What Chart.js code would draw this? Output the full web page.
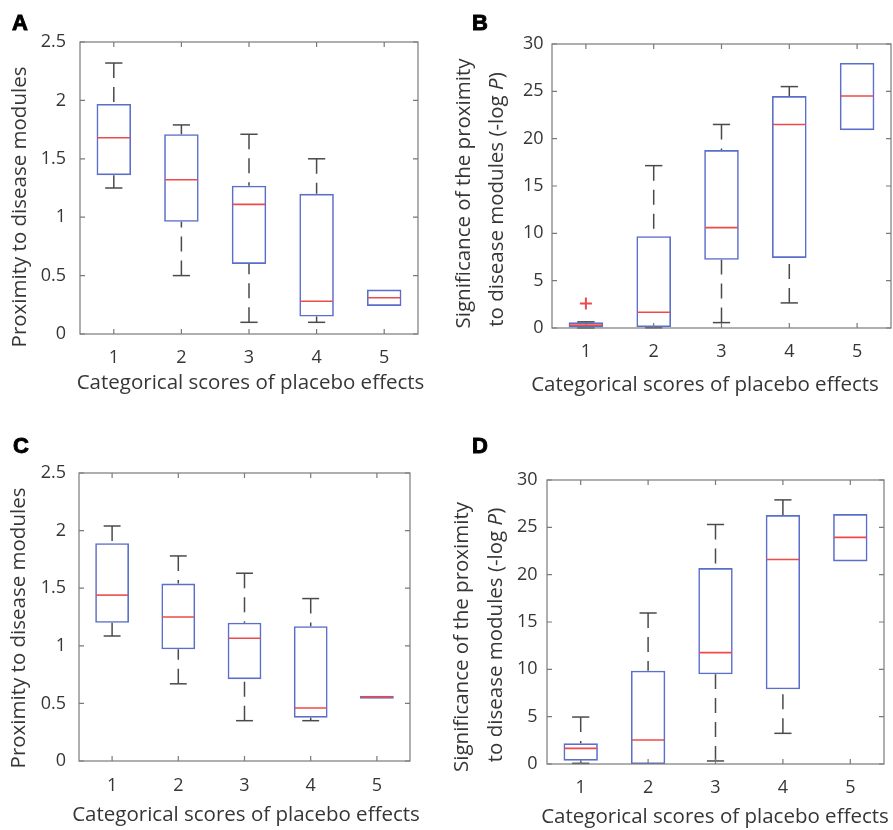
<!DOCTYPE html>
<html>
<head>
<meta charset="utf-8">
<script src="https://cdn.jsdelivr.net/npm/chart.js@4.4.0/dist/chart.umd.min.js"></script>
<style>
  body { margin: 0; background: #fff; }
  #wrap { position: relative; width: 893px; height: 830px; overflow: hidden; }
  .panel { position: absolute; }
  .tag { position: absolute; font: bold 22px "Liberation Sans", Arial, sans-serif; line-height: 1;
         color: #000; -webkit-text-stroke: 0.9px #000; }
</style>
</head>
<body>
<div id="wrap">
  <div class="panel" style="left:0;top:0;width:446px;height:410px"><canvas id="cA"></canvas></div>
  <div class="panel" style="left:446px;top:0;width:447px;height:410px"><canvas id="cB"></canvas></div>
  <div class="panel" style="left:0;top:420px;width:446px;height:410px"><canvas id="cC"></canvas></div>
  <div class="panel" style="left:446px;top:420px;width:447px;height:410px"><canvas id="cD"></canvas></div>
  <div class="tag" style="left:12px;top:12px">A</div>
  <div class="tag" style="left:472px;top:12px">B</div>
  <div class="tag" style="left:13px;top:435px">C</div>
  <div class="tag" style="left:472px;top:435px">D</div>
</div>
<script>
const categories = ['1', '2', '3', '4', '5'];
const proxTicks = [0, 0.5, 1, 1.5, 2, 2.5];
const sigTicks = [0, 5, 10, 15, 20, 25, 30];

// A - proximity
const aLow  = [1.25, 0.50, 0.10, 0.10, 0.24];
const aQ1   = [1.36, 0.96, 0.60, 0.15, 0.24];
const aMed  = [1.68, 1.32, 1.11, 0.28, 0.31];
const aQ3   = [1.97, 1.71, 1.27, 1.20, 0.38];
const aHigh = [2.32, 1.79, 1.71, 1.50, 0.38];
const aOut  = [[], [], [], [], []];

// B - significance
const bLow  = [0, 0.02, 0.57, 2.65, 20.9];
const bQ1   = [0.05, 0.1, 7.2, 7.4, 20.9];
const bMed  = [0.3, 1.67, 10.6, 21.5, 24.5];
const bQ3   = [0.6, 9.7, 18.8, 24.5, 28.0];
const bHigh = [0.65, 17.15, 21.5, 25.5, 28.0];
const bOut  = [[2.6], [], [], [], []];

// C - proximity
const cLow  = [1.085, 0.67, 0.35, 0.35, 0.54];
const cQ1   = [1.20, 0.97, 0.71, 0.376, 0.54];
const cMed  = [1.44, 1.25, 1.065, 0.46, 0.553];
const cQ3   = [1.89, 1.54, 1.20, 1.17, 0.567];
const cHigh = [2.04, 1.78, 1.63, 1.41, 0.567];
const cOut  = [[], [], [], [], []];

// D - significance
const dLow  = [0.07, 0, 0.32, 3.24, 21.4];
const dQ1   = [0.35, 0, 9.47, 7.89, 21.4];
const dMed  = [1.65, 2.54, 11.76, 21.6, 23.94];
const dQ3   = [2.18, 9.86, 20.7, 26.3, 26.4];
const dHigh = [4.96, 15.95, 25.3, 27.9, 26.4];
const dOut  = [[], [], [], [], []];

const xTitle = 'Categorical scores of placebo effects';
const proxTitle = [[['Proximity to disease modules', false]]];
const sigTitle = [
  [['Significance of the proximity', false]],
  [['to disease modules (-log ', false], ['P', true], [')', false]]
];

const TEXT = '#363636';
const FONT = '"Open Sans", sans-serif';

// whiskers, medians, outliers, frame and axis titles
const boxExtras = {
  id: 'boxExtras',
  afterDatasetsDraw(chart, args, o) {
    const {ctx, scales: {x, y}} = chart;
    const bars = chart.getDatasetMeta(0).data;
    ctx.save();
    o.med.forEach((m, i) => {
      const cx = x.getPixelForValue(i);
      const w = bars[i].width;
      const pLow = y.getPixelForValue(o.low[i]), pQ1 = y.getPixelForValue(o.q1[i]);
      const pQ3 = y.getPixelForValue(o.q3[i]), pHigh = y.getPixelForValue(o.high[i]);
      ctx.strokeStyle = '#4a4a4a';
      ctx.lineWidth = 1.5;
      [[pLow, pQ1, o.low[i] < o.q1[i]], [pHigh, pQ3, o.high[i] > o.q3[i]]].forEach(([end, edge, show]) => {
        if (!show) return;
        ctx.setLineDash([15, 9]);
        ctx.beginPath(); ctx.moveTo(cx, end); ctx.lineTo(cx, edge); ctx.stroke();
        ctx.setLineDash([]);
        ctx.beginPath(); ctx.moveTo(cx - w / 4, end); ctx.lineTo(cx + w / 4, end); ctx.stroke();
      });
      const pm = y.getPixelForValue(m);
      ctx.strokeStyle = '#ee4a4a';
      ctx.lineWidth = 1.6;
      ctx.beginPath(); ctx.moveTo(cx - w / 2 + 1, pm); ctx.lineTo(cx + w / 2 - 1, pm); ctx.stroke();
      o.out[i].forEach(v => {
        const py = y.getPixelForValue(v);
        ctx.lineWidth = 2;
        ctx.beginPath();
        ctx.moveTo(cx - 6, py); ctx.lineTo(cx + 6, py);
        ctx.moveTo(cx, py - 6); ctx.lineTo(cx, py + 6);
        ctx.stroke();
      });
    });
    ctx.restore();
  },
  afterDraw(chart, args, o) {
    const {ctx, chartArea: a, scales: {x, y}} = chart;
    ctx.save();
    // frame with inward ticks
    ctx.strokeStyle = '#7a7a7a';
    ctx.lineWidth = 1.2;
    ctx.strokeRect(a.left, a.top, a.right - a.left, a.bottom - a.top);
    ctx.beginPath();
    y.ticks.forEach(t => {
      const py = y.getPixelForValue(t.value);
      ctx.moveTo(a.left, py); ctx.lineTo(a.left + 5, py);
      ctx.moveTo(a.right, py); ctx.lineTo(a.right - 5, py);
    });
    x.ticks.forEach((t, i) => {
      const px = x.getPixelForValue(i);
      ctx.moveTo(px, a.bottom); ctx.lineTo(px, a.bottom - 5);
      ctx.moveTo(px, a.top); ctx.lineTo(px, a.top + 5);
    });
    ctx.stroke();

    // axis titles
    ctx.fillStyle = TEXT;
    ctx.textBaseline = 'middle';
    ctx.font = '20.5px ' + FONT;
    ctx.textAlign = 'center';
    ctx.fillText(o.xTitle.text, o.xTitle.cx, o.xTitle.cy);

    o.yTitle.lines.forEach((segs, li) => {
      const fonts = segs.map(s => (s[1] ? 'italic ' : '') + '20.5px ' + FONT);
      const widths = segs.map((s, k) => { ctx.font = fonts[k]; return ctx.measureText(s[0]).width; });
      const total = widths.reduce((p, c) => p + c, 0);
      ctx.save();
      ctx.translate(o.yTitle.cx[li], o.yTitle.cy[li]);
      ctx.rotate(-Math.PI / 2);
      ctx.textAlign = 'left';
      let pos = -total / 2;
      segs.forEach((s, k) => {
        ctx.font = fonts[k];
        ctx.fillText(s[0], pos, 0);
        pos += widths[k];
      });
      ctx.restore();
    });
    ctx.restore();
  }
};

function makePanel(id, low, q1, med, q3, high, out, yTicks, box, yPad, xPad, xT, yT) {
  const W = box.w, H = box.h;
  return new Chart(document.getElementById(id), {
    type: 'bar',
    data: {
      labels: categories,
      datasets: [{
        data: q1.map((v, i) => [v, q3[i]]),
        backgroundColor: 'rgba(0,0,0,0)',
        borderColor: '#5a6ecb',
        borderWidth: 1.6,
        borderSkipped: false,
        barPercentage: 1,
        categoryPercentage: 0.51
      }]
    },
    options: {
      responsive: true,
      maintainAspectRatio: false,
      animation: false,
      events: [],
      layout: { padding: { left: 0, top: box.top, right: W - box.right, bottom: 0 } },
      scales: {
        x: {
          offset: true,
          grid: { display: false, drawTicks: false },
          border: { display: false },
          ticks: { color: TEXT, padding: xPad, font: { family: FONT, size: 18, lineHeight: 1.2 } },
          afterFit: s => { s.height = H - box.bottom; }
        },
        y: {
          min: yTicks[0],
          max: yTicks[yTicks.length - 1],
          afterBuildTicks: s => { s.ticks = yTicks.map(v => ({ value: v })); },
          grid: { display: false, drawTicks: false },
          border: { display: false },
          ticks: { color: TEXT, padding: yPad, font: { family: FONT, size: 18 }, callback: v => String(v) },
          afterFit: s => { s.width = box.left; }
        }
      },
      plugins: {
        legend: { display: false },
        tooltip: { enabled: false },
        boxExtras: { low, q1, med, q3, high, out, xTitle: xT, yTitle: yT }
      }
    },
    plugins: [boxExtras]
  });
}

makePanel('cA', aLow, aQ1, aMed, aQ3, aHigh, aOut, proxTicks,
  { w: 446, h: 410, left: 80, right: 418, top: 42, bottom: 334 }, 14, 13,
  { text: xTitle, cx: 250.5, cy: 383 },
  { lines: proxTitle, cx: [20], cy: [207] });

makePanel('cB', bLow, bQ1, bMed, bQ3, bHigh, bOut, sigTicks,
  { w: 447, h: 410, left: 106, right: 445, top: 44, bottom: 328 }, 8.5, 13,
  { text: xTitle, cx: 259, cy: 385 },
  { lines: sigTitle, cx: [18, 51.5], cy: [193.5, 199.5] });

makePanel('cC', cLow, cQ1, cMed, cQ3, cHigh, cOut, proxTicks,
  { w: 446, h: 410, left: 79, right: 410, top: 53, bottom: 341 }, 13, 14.5,
  { text: xTitle, cx: 246, cy: 395 },
  { lines: proxTitle, cx: [19], cy: [208] });

makePanel('cD', dLow, dQ1, dMed, dQ3, dHigh, dOut, sigTicks,
  { w: 447, h: 410, left: 101, right: 438, top: 60, bottom: 344 }, 9.5, 13,
  { text: xTitle, cx: 269, cy: 397 },
  { lines: sigTitle, cx: [16.5, 50], cy: [217, 215] });
</script>
</body>
</html>
